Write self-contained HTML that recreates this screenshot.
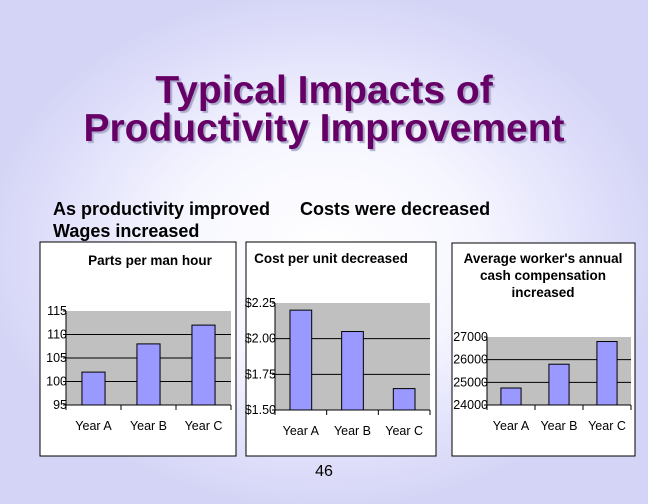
<!DOCTYPE html>
<html><head><meta charset="utf-8"><style>
html,body{margin:0;padding:0}
body{width:648px;height:504px;overflow:hidden;position:relative;font-family:"Liberation Sans",sans-serif;
background:radial-gradient(ellipse 340px 260px at 324px 250px,#ffffff 0%,#f6f6ff 45%,#e0e0fb 80%,#d4d4f6 100%);}
.title{position:absolute;left:0;width:648px;top:72px;text-align:center;font-weight:bold;font-size:39px;line-height:38px;color:#660066;text-shadow:2px 2px 1px #a8a8c8;}
.h{position:absolute;font-weight:bold;font-size:18px;color:#000;}
svg{position:absolute;left:0;top:0}
</style></head><body>
<div class="title">Typical Impacts of<br>Productivity Improvement</div>
<div class="h" style="left:53px;top:199px">As productivity improved</div>
<div class="h" style="left:53px;top:221px">Wages increased</div>
<div class="h" style="left:300px;top:199px">Costs were decreased</div>
<svg id="s" width="648" height="504"></svg>
<div style="position:absolute;left:0;width:648px;top:463px;text-align:center;font-size:16px">46</div>
<script>
const categories=["Year A","Year B","Year C"];
const partsValues=[102,108,112];
const partsTicks=[95,100,105,110,115];
const costValues=[2.20,2.05,1.65];
const costTicks=[1.50,1.75,2.00,2.25];
const costTickLabels=["$1.50","$1.75","$2.00","$2.25"];
const wageValues=[24750,25800,26800];
const wageTicks=[24000,25000,26000,27000];
const NS="http://www.w3.org/2000/svg";
const s=document.getElementById('s');
function mk(t,a,txt){const e=document.createElementNS(NS,t);for(const k in a)e.setAttribute(k,a[k]);if(txt!==undefined)e.textContent=txt;s.appendChild(e);return e;}
function chart(c){
  const b=mk('rect',{x:c.bx,y:c.by,width:c.bw,height:c.bh,fill:'#fff',stroke:'#000','stroke-width':1});
  
  
  c.title.forEach((t,i)=>{const e=mk('text',{x:c.tx,y:c.ty+i*17,'text-anchor':'middle','font-size':13.5,'font-weight':'bold','font-family':'Liberation Sans, sans-serif'},t);
    
    });
  const min=c.ticks[0],max=c.ticks[c.ticks.length-1];
  const y=v=>c.b-(v-min)/(max-min)*(c.b-c.t);
  const p=mk('rect',{x:c.l,y:c.t,width:c.r-c.l,height:c.b-c.t,fill:'#c0c0c0'});
  
  
  c.ticks.forEach((v,i)=>{
    if(i>0&&i<c.ticks.length-1){const g=mk('line',{x1:c.l,x2:c.r,y1:y(v),y2:y(v),stroke:'#000','stroke-width':1});
      
      }
    mk('line',{x1:c.l-3,x2:c.l,y1:y(v),y2:y(v),stroke:'#000'});
    const lt=mk('text',{x:c.l+1,y:y(v)+4,'text-anchor':'end','font-size':12.5,'font-family':'Liberation Sans, sans-serif'},c.labels?c.labels[i]:String(v));
    
    
  });
  mk('line',{x1:c.l,x2:c.l,y1:c.t,y2:c.b,stroke:'#000'});
  mk('line',{x1:c.l,x2:c.r,y1:c.b,y2:c.b,stroke:'#000'});
  const n=categories.length,w=(c.r-c.l)/n;
  for(let i=0;i<=n;i++)mk('line',{x1:c.l+i*w,x2:c.l+i*w,y1:c.b,y2:c.b+5,stroke:'#000'});
  categories.forEach((cat,i)=>{
    const bw=w*0.42,x=c.l+i*w+(w-bw)/2,v=c.values[i];
    const r=mk('rect',{x:x,y:y(v),width:bw,height:c.b-y(v),fill:'#9999ff',stroke:'#000','stroke-width':1});
    
    
    const t=mk('text',{x:c.l+i*w+w/2,y:c.b+25,'text-anchor':'middle','font-size':12.5,'font-family':'Liberation Sans, sans-serif'},cat);
    
    
  });
}
chart({name:'parts-chart',bx:40,by:242,bw:196,bh:214,tx:150,ty:265,title:['Parts per man hour'],l:66,r:231,t:311,b:405,ticks:partsTicks,values:partsValues});
chart({name:'cost-chart',bx:246,by:242,bw:190,bh:214,tx:331,ty:263,title:['Cost per unit decreased'],l:275,r:430,t:303,b:410,ticks:costTicks,labels:costTickLabels,values:costValues});
chart({name:'wage-chart',bx:452,by:243,bw:183,bh:213,tx:543,ty:263,title:["Average worker's annual","cash compensation","increased"],l:487,r:631,t:337,b:405,ticks:wageTicks,values:wageValues});
</script>
</body></html>
